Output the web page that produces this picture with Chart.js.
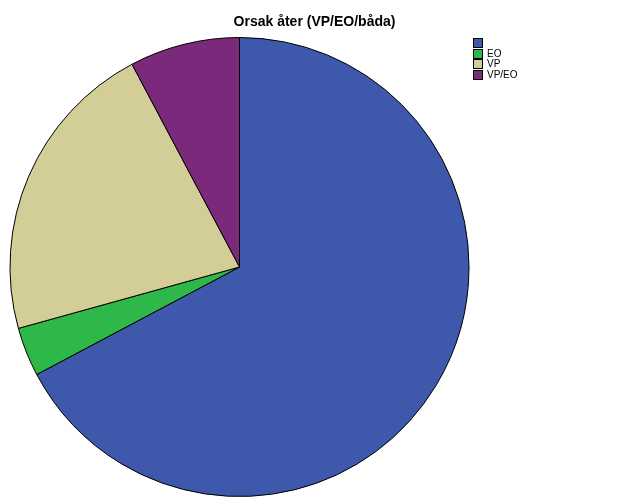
<!DOCTYPE html>
<html>
<head>
<meta charset="utf-8">
<script src="https://cdn.jsdelivr.net/npm/chart.js@4"></script>
<style>
  html, body { margin: 0; padding: 0; background: #fff; }
  #wrap { position: relative; width: 629px; height: 504px; }
  #title {
    position: absolute; left: 0; top: 13px; width: 629px; text-align: center;
    font: bold 14px "Liberation Sans", Arial, sans-serif; color: #000;
  }
  #legend {
    position: absolute; left: 473px; top: 38px;
    font: 10px "Liberation Sans", Arial, sans-serif; color: #000;
  }
  #legend div { height: 10.5px; line-height: 10px; white-space: nowrap; }
  #legend span {
    display: inline-block; width: 8px; height: 8px; border: 1px solid #000;
    vertical-align: top; margin-right: 4px;
  }
</style>
</head>
<body>
<div id="wrap">
  <canvas id="pie_chart" width="629" height="504"></canvas>
  <div id="title">Orsak åter (VP/EO/båda)</div>
  <div id="legend"></div>
</div>
<script>
/* -----------------------
data
-------------------------- */
const categories = ['', 'EO', 'VP', 'VP/EO'];
const counts = [78, 4, 25, 9];
const colors = ['#3e58ab', '#2fb84a', '#d3ce98', '#7b2a7b'];

/* -----------------------
legend
-------------------------- */
const legend = document.getElementById('legend');
categories.forEach(function (name, i) {
  const row = document.createElement('div');
  row.innerHTML = '<span style="background:' + colors[i] + '"></span>' + name;
  legend.appendChild(row);
});

/* -----------------------
pie chart
-------------------------- */
const pieChart = document.getElementById('pie_chart');
new Chart(pieChart, {
  type: 'pie',
  data: {
    labels: categories,
    datasets: [{
      data: counts,
      backgroundColor: colors,
      borderColor: '#000',
      borderWidth: 1
    }]
  },
  options: {
    responsive: false,
    animation: false,
    layout: { padding: { left: 9, right: 159, top: 37, bottom: 7 } },
    plugins: {
      legend: { display: false },
      title: { display: false },
      tooltip: { enabled: false }
    }
  }
});
</script>
</body>
</html>
